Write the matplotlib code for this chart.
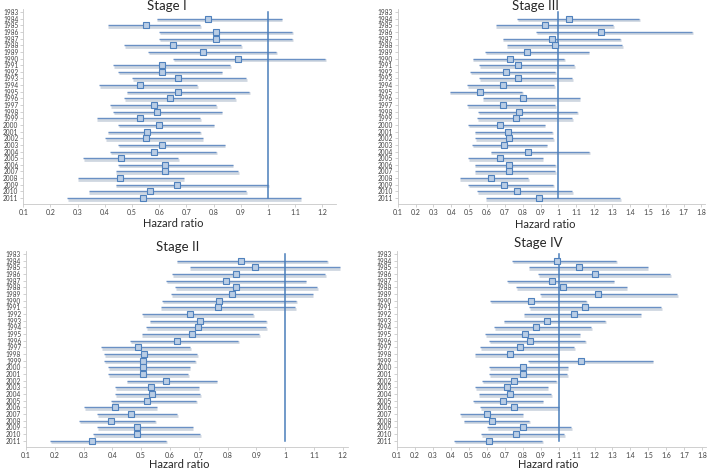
import numpy as np
import matplotlib.pyplot as plt
from matplotlib import patheffects as pe

years = list(range(1983, 2012))
data_years = years[1:]  # 1983 is the reference year, no estimate

# Stage I
hr1 = [0.78, 0.55, 0.81, 0.81, 0.65, 0.76, 0.89, 0.61, 0.61, 0.67, 0.53, 0.67, 0.64, 0.58,
       0.59, 0.53, 0.60, 0.555, 0.55, 0.61, 0.58, 0.46, 0.62, 0.62, 0.455, 0.665, 0.565, 0.54]
lo1 = [0.59, 0.41, 0.60, 0.60, 0.47, 0.56, 0.65, 0.43, 0.45, 0.50, 0.38, 0.48, 0.47, 0.42,
       0.43, 0.37, 0.45, 0.41, 0.40, 0.45, 0.42, 0.32, 0.45, 0.44, 0.30, 0.44, 0.34, 0.26]
hi1 = [1.05, 0.75, 1.09, 1.09, 0.90, 1.03, 1.21, 0.86, 0.83, 0.92, 0.74, 0.93, 0.88, 0.81,
       0.83, 0.75, 0.80, 0.75, 0.76, 0.84, 0.81, 0.67, 0.87, 0.89, 0.69, 1.00, 0.92, 1.12]

# Stage II
hr2 = [0.846, 0.894, 0.831, 0.794, 0.829, 0.815, 0.772, 0.766, 0.670, 0.705, 0.697, 0.676, 0.624, 0.49,
       0.51, 0.505, 0.507, 0.506, 0.585, 0.533, 0.539, 0.521, 0.409, 0.466, 0.397, 0.484, 0.484, 0.328]
lo2 = [0.623, 0.669, 0.608, 0.588, 0.619, 0.604, 0.574, 0.568, 0.503, 0.530, 0.517, 0.502, 0.463, 0.36,
       0.372, 0.371, 0.386, 0.386, 0.45, 0.409, 0.409, 0.395, 0.301, 0.348, 0.285, 0.347, 0.334, 0.183]
hi2 = [1.146, 1.19, 1.14, 1.071, 1.112, 1.096, 1.039, 1.036, 0.889, 0.935, 0.935, 0.911, 0.837, 0.67,
       0.695, 0.687, 0.669, 0.664, 0.762, 0.70, 0.705, 0.69, 0.554, 0.625, 0.548, 0.679, 0.704, 0.586]

# Stage III
hr3 = [1.056, 0.922, 1.239, 0.961, 0.979, 0.826, 0.728, 0.776, 0.705, 0.771, 0.692, 0.558, 0.804, 0.692,
       0.778, 0.761, 0.670, 0.716, 0.724, 0.694, 0.828, 0.670, 0.722, 0.722, 0.625, 0.694, 0.767, 0.892]
lo3 = [0.767, 0.649, 0.875, 0.687, 0.709, 0.590, 0.519, 0.554, 0.507, 0.556, 0.489, 0.390, 0.576, 0.489,
       0.552, 0.543, 0.493, 0.530, 0.534, 0.515, 0.621, 0.496, 0.530, 0.530, 0.446, 0.496, 0.543, 0.593]
hi3 = [1.451, 1.304, 1.750, 1.345, 1.356, 1.168, 1.030, 1.088, 0.983, 1.075, 0.976, 0.797, 1.118, 0.983,
       1.103, 1.075, 0.922, 0.966, 0.972, 0.934, 1.172, 0.912, 0.981, 0.981, 0.832, 0.972, 1.075, 1.345]

# Stage IV
hr4 = [0.989, 1.115, 1.20, 0.963, 1.026, 1.22, 0.846, 1.145, 1.084, 0.934, 0.872, 0.813, 0.841, 0.784,
       0.729, 1.125, 0.804, 0.804, 0.755, 0.711, 0.729, 0.692, 0.753, 0.601, 0.630, 0.804, 0.764, 0.615]
lo4 = [0.742, 0.833, 0.888, 0.714, 0.764, 0.897, 0.621, 0.835, 0.806, 0.694, 0.643, 0.592, 0.614, 0.564,
       0.533, 0.832, 0.614, 0.614, 0.575, 0.538, 0.555, 0.524, 0.566, 0.452, 0.473, 0.603, 0.568, 0.418]
hi4 = [1.32, 1.496, 1.619, 1.306, 1.379, 1.661, 1.154, 1.57, 1.456, 1.258, 1.181, 1.117, 1.148, 1.086,
       1.00, 1.524, 1.051, 1.048, 0.987, 0.940, 0.958, 0.912, 1.00, 0.80, 0.837, 1.07, 1.031, 0.908]

ref_hr = 1.0
ticks_short = [round(0.1 * i, 1) for i in range(1, 13)]
ticks_long = [round(0.1 * i, 1) for i in range(1, 19)]

plt.rcParams['font.family'] = ['Lato', 'DejaVu Sans']

W, H = 709, 469
fig = plt.figure(figsize=(W / 100, H / 100), dpi=100)

line_col = '#6a90c4'
box_fill = '#b9cde5'
box_edge = '#4f81bd'
ref_col = '#4a7ebb'


def draw_panel(rect, hr, lo, hi, ticks, xmax):
    ax = fig.add_axes(rect)
    ax.hlines(data_years, lo, hi, color=line_col, lw=1.0,
              path_effects=[pe.SimpleLineShadow(offset=(0.5, -1.1), shadow_color='#a9b6c8', alpha=0.55,
                                                linewidth=2.0),
                            pe.Normal()])
    ax.plot([ref_hr, ref_hr], [years[0], years[-1]], color=ref_col, lw=1.1, zorder=3)
    ax.plot(hr, data_years, 's', ms=4.4, mfc=box_fill, mec=box_edge, mew=0.8, zorder=4)
    ax.set_xlim(0.1, xmax)
    ax.set_ylim(years[-1] + 0.9, years[0] - 0.5)
    ax.set_yticks(years)
    ax.set_yticklabels([str(y) for y in years], fontsize=4.7, color='#404040')
    ax.set_xticks(ticks)
    ax.set_xticklabels([f'{t:g}' for t in ticks], fontsize=5, color='#404040')
    ax.tick_params(axis='both', length=2, width=0.5, color='#bfbfbf', pad=1.5)
    for s in ['top', 'right']:
        ax.spines[s].set_visible(False)
    for s in ['left', 'bottom']:
        ax.spines[s].set_color('#c8c8c8')
        ax.spines[s].set_linewidth(0.6)
    ax.patch.set_alpha(0)
    return ax


def px(x0, x1, y0, y1):
    return [x0 / W, 1 - y1 / H, (x1 - x0) / W, (y1 - y0) / H]


# top panels: rows 1983 at y=12, 2011 at y=198
draw_panel(px(23.3, 336, 8.7, 204), hr1, lo1, hi1, ticks_short, 1.25)
draw_panel(px(397.7, 705, 8.7, 204), hr3, lo3, hi3, ticks_long, 1.82)
# bottom panels: rows 1983 at y=254, 2011 at y=440.7
draw_panel(px(26, 348.4, 250.7, 446.7), hr2, lo2, hi2, ticks_short, 1.22)
draw_panel(px(396.7, 706, 250.7, 446.7), hr4, lo4, hi4, ticks_long, 1.82)

titles = [('Stage I', 167, 5.5), ('Stage III', 535, 6.5), ('Stage II', 178, 246.5), ('Stage IV', 538, 243)]
for t, x, y in titles:
    fig.text(x / W, 1 - y / H, t, fontsize=9.5, ha='center', va='center', color='#262626')

xlabels = [(173, 223), (545, 224), (179, 464.5), (548, 464.5)]
for x, y in xlabels:
    fig.text(x / W, 1 - y / H, 'Hazard ratio', fontsize=8, ha='center', va='center', color='#262626')

fig.savefig('out.png', dpi=100)
